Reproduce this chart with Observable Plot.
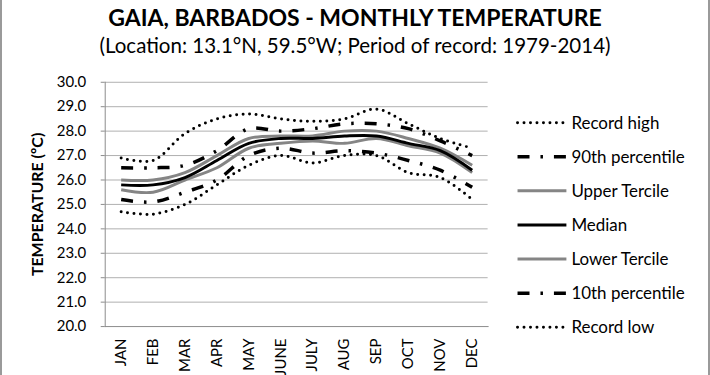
<!DOCTYPE html>
<html>
<head>
<meta charset="utf-8">
<script src="https://cdn.jsdelivr.net/npm/d3@7"></script>
<script src="https://cdn.jsdelivr.net/npm/@observablehq/plot@0.6"></script>
<style>
  html, body { margin: 0; padding: 0; background: #fff; }
  #wrap { position: relative; width: 710px; height: 375px; box-sizing: border-box;
          border-left: 2px solid #9a9a9a; border-right: 2px solid #9a9a9a; overflow: hidden;
          font-family: Lato, "Open Sans", sans-serif; }
  #title { position: absolute; left: 0; width: 706px; top: 3px; text-align: center;
           font-weight: bold; font-size: 23px; line-height: 28px; color: #000; }
  #subtitle { position: absolute; left: 0; width: 706px; top: 32px; text-align: center;
              font-size: 20.5px; line-height: 26px; color: #000; }
  #chart { position: absolute; left: -2px; top: 0; }
</style>
</head>
<body>
<div id="wrap">
  <div id="title">GAIA, BARBADOS - MONTHLY TEMPERATURE</div>
  <div id="subtitle">(Location: 13.1°N, 59.5°W; Period of record: 1979-2014)</div>
  <div id="chart"></div>
</div>
<script>
const months = ["JAN","FEB","MAR","APR","MAY","JUNE","JULY","AUG","SEP","OCT","NOV","DEC"];
const recordHigh   = [26.9, 26.8, 27.9, 28.5, 28.7, 28.5, 28.4, 28.5, 28.9, 28.3, 27.7, 27.3];
const p90          = [26.5, 26.5, 26.6, 27.2, 28.1, 28.0, 28.1, 28.3, 28.3, 28.1, 27.6, 27.0];
const upperTercile = [26.0, 26.0, 26.3, 27.0, 27.7, 27.8, 27.8, 28.0, 28.0, 27.7, 27.3, 26.6];
const median       = [25.8, 25.8, 26.1, 26.8, 27.5, 27.7, 27.7, 27.8, 27.8, 27.5, 27.2, 26.4];
const lowerTercile = [25.6, 25.5, 26.0, 26.5, 27.3, 27.5, 27.6, 27.5, 27.7, 27.4, 27.1, 26.3];
const p10          = [25.2, 25.1, 25.5, 26.0, 27.0, 27.3, 27.1, 27.2, 27.1, 26.8, 26.4, 25.7];
const recordLow    = [24.7, 24.6, 25.0, 25.8, 26.6, 27.0, 26.7, 27.0, 27.0, 26.3, 26.1, 25.2];
const yTicks = [20, 21, 22, 23, 24, 25, 26, 27, 28, 29, 30];
const seriesNames = ["Record high","90th percentile","Upper Tercile","Median","Lower Tercile","10th percentile","Record low"];
const seriesValues = [recordHigh, p90, upperTercile, median, lowerTercile, p10, recordLow];

const dotted = {stroke: "#000", strokeWidth: 3, strokeDasharray: "0 6.5", strokeLinecap: "round"};
const dashDot = {stroke: "#000", strokeWidth: 3.5, strokeDasharray: "12 11 2.5 11", strokeLinecap: "butt"};
const grayLine = {stroke: "#858585", strokeWidth: 3, strokeLinecap: "butt"};
const blackLine = {stroke: "#000", strokeWidth: 3, strokeLinecap: "butt"};
const styles = [dotted, dashDot, grayLine, blackLine, grayLine, dashDot, dotted];

const rows = (arr) => months.map((m, i) => ({month: m, value: arr[i]}));
const drawOrder = [0, 1, 2, 4, 3, 5, 6];

const plot = Plot.plot({
  width: 710,
  height: 375,
  marginTop: 82,
  marginBottom: 48,
  marginLeft: 105,
  marginRight: 221,
  style: {fontFamily: "Lato, sans-serif", fontSize: "15px", color: "#000", background: "transparent", overflow: "visible"},
  x: {type: "point", domain: months, padding: 0.5, label: null},
  y: {domain: [20, 30], label: null},
  marks: [
    Plot.ruleY(yTicks.slice(1), {stroke: "#b0b0b0", strokeWidth: 1}),
    Plot.frame({anchor: "left", stroke: "#8c8c8c"}),
    Plot.frame({anchor: "bottom", stroke: "#8c8c8c"}),
    Plot.axisY({ticks: yTicks, tickFormat: d => d.toFixed(1), tickSize: 4, tickPadding: 15, stroke: "#8c8c8c", fill: "#000", label: null}),
    Plot.axisX({tickSize: 0, tickRotate: -90, tickPadding: 12, fontSize: 15, fill: "#000", label: null}),
    Plot.text(["TEMPERATURE (ºC)"], {frameAnchor: "left", dx: -68, rotate: -90, textAnchor: "middle", fontWeight: "bold", fontSize: 16, fill: "#000"}),
    ...drawOrder.map(k => Plot.line(rows(seriesValues[k]), {x: "month", y: "value", curve: "catmull-rom", ...styles[k]}))
  ]
});
document.getElementById("chart").appendChild(plot);

// legend
const svg = d3.select(plot);
const lg = svg.append("g").attr("font-family", "Lato, sans-serif").attr("font-size", 17).attr("text-anchor", "start");
seriesNames.forEach((name, i) => {
  const y = 123 + i * 34.2;
  const s = styles[i];
  lg.append("line").attr("x1", 519).attr("x2", 568).attr("y1", y).attr("y2", y)
    .attr("stroke", s.stroke).attr("stroke-width", s.strokeWidth)
    .attr("stroke-dasharray", s.strokeDasharray || null)
    .attr("stroke-linecap", s.strokeLinecap);
  lg.append("text").attr("x", 573).attr("y", y).attr("dy", "0.35em").attr("fill", "#000").text(name);
});
</script>
</body>
</html>
